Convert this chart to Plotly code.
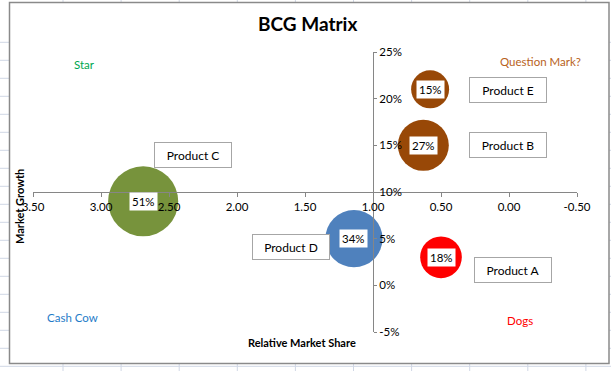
import plotly.graph_objects as go
import numpy as np

# ---------------- data ----------------
products = ["Product A", "Product B", "Product C", "Product D", "Product E"]
rel_share = [0.50, 0.63, 2.69, 1.14, 0.58]      # Relative Market Share (x)
mkt_growth = [3, 15, 9, 5, 21]                 # Market Growth % (y)
bubble_size = [18, 27, 51, 34, 15]             # bubble size (%)
x_ticks = [3.5, 3.0, 2.5, 2.0, 1.5, 1.0, 0.5, 0.0, -0.5]
y_ticks = [-5, 0, 5, 10, 15, 20, 25]
quadrants = ["Star", "Question Mark?", "Cash Cow", "Dogs"]

# ---------------- style ----------------
W, H = 611, 371
ML, MR, MT, MB = 33, 34, 52, 39
PW, PH = W - ML - MR, H - MT - MB
FONT = "Lato, 'Open Sans', sans-serif"
colors = ["#FF0000", "#984807", "#77933C", "#4F81BD", "#984807"]
# label box offsets (px, dx right / dy down) from each bubble
label_off = {"Product A": (72, 13), "Product B": (85, 0), "Product C": (50, -46),
             "Product D": (-63, 8), "Product E": (78, 1)}
quad_style = {"Star": ((84, 65), "#00A650"),
              "Question Mark?": ((540, 61), "#B8621B"),
              "Cash Cow": ((72, 317), "#1E7BC8"),
              "Dogs": ((520, 320), "#FF0000")}


def px(xp):
    return (xp - ML) / PW


def py(yp):
    return (H - MB - yp) / PH


fig = go.Figure()
fig.add_trace(go.Scatter(
    x=rel_share, y=mkt_growth, mode="markers",
    marker=dict(size=bubble_size, sizemode="area", sizeref=2 * 15 / 38 ** 2,
                color=colors, line=dict(width=0), opacity=1),
    hoverinfo="skip", showlegend=False, cliponaxis=False))

shapes = []
GRID = "#D0D7E5"
# spreadsheet grid outside the chart frame
for k in range(10):
    xg = 63 + 58.1 * k
    shapes.append(dict(type="line", xref="paper", yref="paper", x0=px(xg), x1=px(xg),
                       y0=py(0), y1=py(H), line=dict(color=GRID, width=1), layer="below"))
for k in range(19):
    yg = 42.3 + 18 * k
    shapes.append(dict(type="line", xref="paper", yref="paper", x0=px(0), x1=px(W),
                       y0=py(yg), y1=py(yg), line=dict(color=GRID, width=1), layer="below"))
# chart frame
shapes.append(dict(type="rect", xref="paper", yref="paper", x0=px(9.5), x1=px(609),
                   y0=py(363.5), y1=py(2.5), fillcolor="white",
                   line=dict(color="#8A8A8A", width=1.5), layer="below"))

ann = []
# title
ann.append(dict(text="<b>BCG Matrix</b>", xref="paper", yref="paper", x=px(307), y=py(24),
                showarrow=False, xanchor="center", yanchor="middle",
                font=dict(family=FONT, size=19, color="black")))
# axis titles
ann.append(dict(text="<b>Relative Market Share</b>", xref="paper", yref="paper",
                x=px(302), y=py(342), showarrow=False, xanchor="center", yanchor="middle",
                font=dict(family=FONT, size=11, color="black")))
ann.append(dict(text="<b>Market Growth</b>", xref="paper", yref="paper",
                x=px(19), y=py(207), showarrow=False, xanchor="center", yanchor="middle",
                textangle=-90, font=dict(family=FONT, size=11, color="black")))
# quadrant labels
for q in quadrants:
    (qx, qy), qc = quad_style[q]
    ann.append(dict(text=q, xref="paper", yref="paper", x=px(qx), y=py(qy),
                    showarrow=False, xanchor="center", yanchor="middle",
                    font=dict(family=FONT, size=11.5, color=qc)))
# bubble value labels and product name boxes
for p, xv, yv, s in zip(products, rel_share, mkt_growth, bubble_size):
    ann.append(dict(text=f"{s}%", x=xv, y=yv, xref="x", yref="y", showarrow=False,
                    xanchor="center", yanchor="middle", bgcolor="white", borderpad=2,
                    font=dict(family=FONT, size=11.5, color="black")))
    dx, dy = label_off[p]
    ann.append(dict(text=p, x=xv, y=yv, xref="x", yref="y", showarrow=False,
                    xanchor="center", yanchor="middle", xshift=dx, yshift=-dy,
                    width=72, height=20, align="center", bgcolor="white",
                    bordercolor="#A6A6A6", borderwidth=1, borderpad=2,
                    font=dict(family=FONT, size=12, color="black")))

fig.update_layout(
    width=W, height=H, margin=dict(l=ML, r=MR, t=MT, b=MB, pad=0),
    paper_bgcolor="white", plot_bgcolor="rgba(0,0,0,0)",
    font=dict(family=FONT, size=11, color="black"),
    shapes=shapes, annotations=ann, showlegend=False,
    xaxis=dict(range=[3.5, -0.5], tickvals=x_ticks,
               ticktext=[f"{v:.2f}" for v in x_ticks],
               showgrid=False, zeroline=False, showline=True, linecolor="#868686",
               linewidth=1, ticks="outside", ticklen=4, tickcolor="#868686",
               anchor="free", position=0.5, side="bottom",
               tickfont=dict(family=FONT, size=11.5, color="black"), fixedrange=True),
    yaxis=dict(range=[-5, 25], tickvals=y_ticks,
               ticktext=[f"{v}%" for v in y_ticks],
               showgrid=False, zeroline=False, showline=True, linecolor="#868686",
               linewidth=1, ticks="outside", ticklen=3, tickcolor="#868686",
               anchor="free", position=(3.5 - 1.0) / 4.0, side="right",
               tickfont=dict(family=FONT, size=11.5, color="black"), fixedrange=True),
)

fig.write_html("out.html", config={"displayModeBar": False},
               post_script="document.body.style.margin='0';")
